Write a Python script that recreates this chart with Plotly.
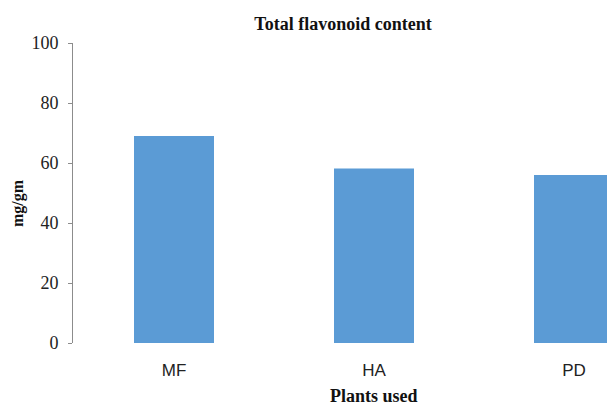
import plotly.graph_objects as go

categories = ["MF", "HA", "PD"]
values = [69, 58.2, 56]
y_ticks = [0, 20, 40, 60, 80, 100]

W, H = 607, 407
L, R, T, B = 73, 0, 43, 64
pw = W - L - R
ph = H - T - B

fig = go.Figure()
fig.add_trace(go.Bar(
    x=categories, y=values, width=0.4,
    marker=dict(color="#5B9BD5", line=dict(width=0)),
    hoverinfo="x+y",
))

fig.update_layout(
    width=W, height=H,
    margin=dict(l=L, r=R, t=T, b=B),
    paper_bgcolor="white", plot_bgcolor="white",
    showlegend=False,
    title=dict(text="<b>Total flavonoid content</b>",
               font=dict(family="Liberation Serif", size=18, color="#111"),
               x=343 / W, xref="container", xanchor="center",
               y=1 - 24 / H, yref="container", yanchor="middle"),
    xaxis=dict(type="category", range=[-0.505, 2.165], showline=False,
               showgrid=False, zeroline=False,
               ticks="outside", ticklen=12, tickcolor="rgba(0,0,0,0)",
               tickfont=dict(family="Liberation Sans", size=17, color="#222")),
    yaxis=dict(range=[0, 100], tickvals=y_ticks, showgrid=False, zeroline=False,
               showline=True, linecolor="#8c8c8c", linewidth=1,
               ticks="outside", ticklen=4, tickcolor="#8c8c8c",
               ticklabelstandoff=6,
               tickfont=dict(family="Liberation Serif", size=18, color="#222")),
    annotations=[
        dict(text="<b>mg/gm</b>", textangle=-90, showarrow=False,
             xref="paper", yref="paper",
             x=(18 - L) / pw, y=(H - B - 203) / ph,
             xanchor="center", yanchor="middle",
             font=dict(family="Liberation Serif", size=16, color="#111")),
        dict(text="<b>Plants used</b>", showarrow=False,
             xref="paper", yref="paper",
             x=(374 - L) / pw, y=(H - B - 396) / ph,
             xanchor="center", yanchor="middle",
             font=dict(family="Liberation Serif", size=18, color="#111")),
    ],
)

fig.write_html(
    "out.html",
    config={"displayModeBar": False},
    post_script="document.body.style.margin='0';document.body.style.overflow='hidden';",
)
